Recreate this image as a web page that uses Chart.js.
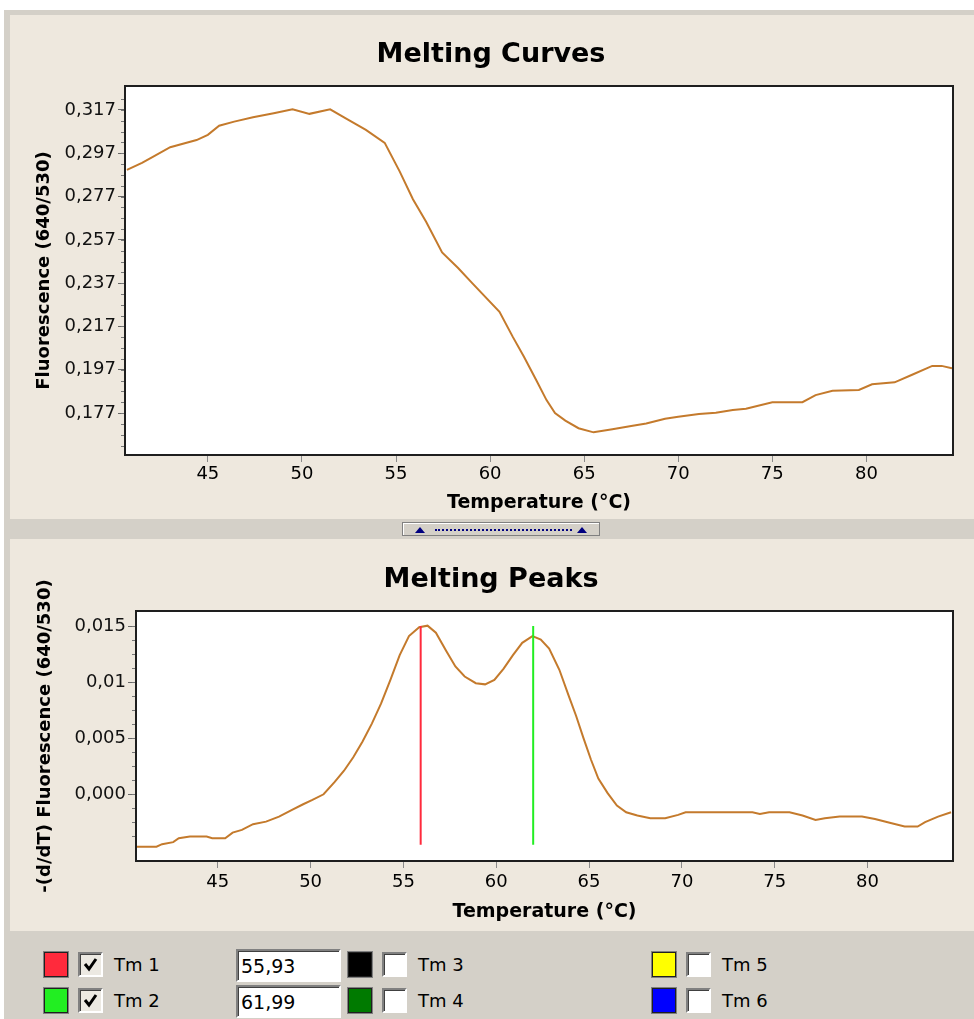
<!DOCTYPE html>
<html>
<head>
<meta charset="utf-8">
<title>Melting Curves / Melting Peaks</title>
<script src="https://cdn.jsdelivr.net/npm/chart.js@4.4.1/dist/chart.umd.min.js"></script>
<style>
  html, body { margin: 0; padding: 0; background: #fff; overflow: hidden; width: 974px; height: 1019px; font-family: "DejaVu Sans", sans-serif; }
  #frame { position: absolute; left: 4px; top: 10px; width: 970px; height: 1009px; background: #d4d0c8; }
  .pane { position: absolute; left: 10px; width: 964px; background: #eee8de; }
  #topPane { top: 15px; height: 504px; }
  #botPane { top: 539px; height: 392px; }
  canvas { position: absolute; left: 0; }
  #curves { top: 0; }
  #peaks { top: 539px; }
  #grip { position: absolute; left: 402px; top: 522px; width: 196px; height: 12px; background: #d4d0c8;
          border: 1px solid #808080; box-shadow: inset 1px 1px #fff; }
  .tri { position: absolute; top: 4px; width: 0; height: 0; border-left: 5px solid transparent; border-right: 5px solid transparent; border-bottom: 6px solid #000080; }
  #dots { position: absolute; left: 32px; top: 6px; width: 137px; border-top: 2px dotted #000080; }
  .swatch { position: absolute; width: 22px; height: 23px; border: 1px solid #202020; outline: 1px solid #808080; }
  .check { position: absolute; width: 21px; height: 21px; background: #fff; border-style: solid; border-width: 2px; border-color: #808080 #fff #fff #808080; box-shadow: inset 1px 1px #404040; }
  .check.on { background: #ece9e2; }
  .lbl { position: absolute; font-size: 18px; color: #000; line-height: 26px; }
  .box { position: absolute; left: 236px; width: 98px; height: 29px; background: #fff; border-style: solid; border-width: 2px; border-color: #808080 #fff #fff #808080; box-shadow: inset 1px 1px #404040;
         font-size: 19px; line-height: 31px; padding-left: 3px; box-sizing: content-box; }
</style>
</head>
<body>
<div id="frame"></div>
<div class="pane" id="topPane"></div>
<div class="pane" id="botPane"></div>
<canvas id="curves" width="982" height="519"></canvas>
<canvas id="peaks" width="982" height="392"></canvas>
<div id="grip"><div class="tri" style="left:12px"></div><div id="dots"></div><div class="tri" style="left:174px"></div></div>
<div id="legend"></div>

<script>
// temperature axis (°C)
const tempTicks = [45, 50, 55, 60, 65, 70, 75, 80];

// melting curve: fluorescence (640/530) vs temperature
const curveTemp = [40.7, 41.5, 42.1, 43.0, 44.4, 45.0, 45.6, 46.4, 47.4, 48.5, 49.5, 50.4, 51.5, 52.4, 53.4, 54.4,
  55.2, 55.9, 56.6, 57.45, 58.3, 59.05, 60.5, 61.2, 61.8, 62.45, 63.0, 63.45, 64.0, 64.7, 65.5, 66.5, 67.5, 68.3,
  69.3, 70.0, 71.1, 72.0, 72.9, 73.6, 75.0, 76.6, 77.3, 78.2, 79.6, 80.3, 81.5, 82.4, 83.5, 84.0, 84.55];
const curveFluor = [0.2893, 0.2926, 0.2954, 0.2998, 0.3031, 0.3055, 0.3097, 0.3116, 0.3136, 0.3155, 0.3173, 0.3152,
  0.3173, 0.3128, 0.3078, 0.3018, 0.2885, 0.2758, 0.2654, 0.2512, 0.2440, 0.2370, 0.2238, 0.2123, 0.2030, 0.1923,
  0.1830, 0.1770, 0.1735, 0.1700, 0.1681, 0.1695, 0.1710, 0.1722, 0.1744, 0.1753, 0.1766, 0.1772, 0.1784, 0.1790,
  0.1820, 0.1820, 0.1853, 0.1873, 0.1877, 0.1903, 0.1912, 0.1946, 0.1988, 0.1988, 0.1977];
const curveYTicks = [0.177, 0.197, 0.217, 0.237, 0.257, 0.277, 0.297, 0.317];
const curveYLabels = ['0,177', '0,197', '0,217', '0,237', '0,257', '0,277', '0,297', '0,317'];

// melting peaks: -(d/dT) fluorescence vs temperature
const peakTemp = [40.6, 41.7, 42.0, 42.6, 42.9, 43.5, 44.4, 44.7, 45.4, 45.8, 46.3, 46.9, 47.6, 48.3, 49.0, 49.6,
  50.1, 50.7, 51.3, 51.8, 52.3, 52.8, 53.3, 53.8, 54.3, 54.8, 55.3, 55.85, 56.3, 56.75, 57.3, 57.8, 58.3, 58.9,
  59.4, 59.9, 60.4, 60.9, 61.4, 61.95, 62.4, 62.85, 63.4, 63.9, 64.3, 64.7, 65.1, 65.5, 66.0, 66.5, 67.0, 67.6,
  68.3, 69.1, 69.8, 70.2, 72.4, 73.8, 74.2, 74.7, 75.8, 76.5, 77.2, 77.7, 78.5, 79.7, 80.4, 81.3, 82.0, 82.7,
  83.1, 83.8, 84.5];
const peakDeriv = [-0.00467, -0.00467, -0.00445, -0.00427, -0.00392, -0.00377, -0.00377, -0.00392, -0.00392,
  -0.00342, -0.00318, -0.00267, -0.00244, -0.00199, -0.00139, -0.00089, -0.0005, 0.0, 0.0011, 0.0021, 0.0033,
  0.0047, 0.0063, 0.0081, 0.0102, 0.0124, 0.0141, 0.0149, 0.01503, 0.0144, 0.0128, 0.0114, 0.0105, 0.0099,
  0.0098, 0.0102, 0.0112, 0.0124, 0.0135, 0.0141, 0.0138, 0.0130, 0.0111, 0.0088, 0.0070, 0.0050, 0.0031,
  0.0014, 0.0001, -0.0010, -0.0016, -0.0019, -0.00213, -0.00213, -0.00184, -0.0016, -0.0016, -0.0016, -0.00175,
  -0.0016, -0.0016, -0.0019, -0.00229, -0.00213, -0.00199, -0.00199, -0.0022, -0.00258, -0.00288, -0.00288,
  -0.00249, -0.00199, -0.0016];
const peakYTicks = [0, 0.005, 0.01, 0.015];
const peakYLabels = ['0,000', '0,005', '0,01', '0,015'];

// Tm markers
const tmValues = [55.93, 61.99];
const tmSpan = [-0.0045, 0.0150];
const tmNames = ['Tm 1', 'Tm 2', 'Tm 3', 'Tm 4', 'Tm 5', 'Tm 6'];
const tmChecked = [true, true, false, false, false, false];

const FONT = '"DejaVu Sans", sans-serif';
const tmColors = ['#ff2a3c', '#22ee22', '#000000', '#007a00', '#ffff00', '#0000ff'];

// white plot area, dark frame and the small unlabelled ticks
const framePlugin = {
  id: 'frame',
  beforeDraw(chart) {
    const { ctx, chartArea: a } = chart;
    ctx.save();
    ctx.fillStyle = '#fff';
    ctx.fillRect(a.left, a.top, a.right - a.left, a.bottom - a.top);
    ctx.restore();
  },
  afterDraw(chart, args, opts) {
    const { ctx, chartArea: a } = chart;
    const y = chart.scales.y;
    ctx.save();
    ctx.strokeStyle = '#777';
    ctx.lineWidth = 1;
    for (let v = opts.minorStart; v <= y.max; v += opts.minorStep) {
      const py = Math.round(y.getPixelForValue(v)) + 0.5;
      if (py < a.top + 2 || py > a.bottom - 2) continue;
      ctx.beginPath();
      ctx.moveTo(a.left - 5, py);
      ctx.lineTo(a.left, py);
      ctx.stroke();
    }
    ctx.strokeStyle = '#1e1e1e';
    ctx.lineWidth = 2;
    ctx.strokeRect(a.left - 1, a.top - 1, a.right - a.left + 2, a.bottom - a.top + 2);
    ctx.restore();
  }
};

function makeChart(id, c) {
  return new Chart(document.getElementById(id), {
    type: 'line',
    data: { datasets: c.datasets },
    options: {
      responsive: false,
      animation: false,
      layout: { padding: 0 },
      plugins: {
        legend: { display: false },
        tooltip: { enabled: false },
        title: {
          display: true,
          text: c.title,
          color: '#000',
          font: { family: FONT, size: 27, weight: 'bold' },
          padding: { top: c.titleTop, bottom: c.titleBottom }
        },
        frame: { minorStart: c.minorStart, minorStep: c.minorStep }
      },
      scales: {
        x: {
          type: 'linear',
          min: 40.65,
          max: 84.55,
          afterBuildTicks: s => { s.ticks = tempTicks.map(v => ({ value: v })); },
          afterFit: s => { s.height = c.xHeight; },
          ticks: { color: '#000', font: { family: FONT, size: 18 }, padding: c.xTickPad, autoSkip: false, maxRotation: 0,
                   callback: v => String(v) },
          grid: { drawOnChartArea: false, tickLength: 8, color: '#8a8a8a' },
          border: { display: false },
          title: { display: true, text: 'Temperature (°C)', color: '#000', font: { family: FONT, size: 19, weight: 'bold' },
                   padding: { top: 0, bottom: c.xTitleBottom } }
        },
        y: {
          min: c.yMin,
          max: c.yMax,
          afterBuildTicks: s => { s.ticks = c.yTicks.map(v => ({ value: v })); },
          afterFit: s => { s.width = c.yWidth; },
          ticks: { color: '#111', font: { family: FONT, size: 18 }, padding: 2, autoSkip: false,
                   callback: (v, i) => c.yLabels[i] },
          grid: { drawOnChartArea: false, tickLength: c.yTickLen, color: '#666' },
          border: { display: false },
          title: { display: true, text: c.yTitle, color: '#000', font: { family: FONT, size: 18, weight: 'bold' },
                   padding: { top: c.yTitleTop, bottom: 0 } }
        },
        y2: {
          position: 'right',
          display: true,
          ticks: { display: false },
          grid: { display: false },
          border: { display: false },
          afterFit: s => { s.width = 30; }
        }
      }
    },
    plugins: [framePlugin]
  });
}

const curveColor = '#c47a2c';

makeChart('curves', {
  title: 'Melting Curves',
  titleTop: 39, titleBottom: 15.6,
  xHeight: 65, xTickPad: 2, xTitleBottom: 4.6,
  yMin: 0.1581, yMax: 0.3276, yWidth: 126, yTickLen: 8,
  yTicks: curveYTicks, yLabels: curveYLabels,
  yTitle: 'Fluorescence (640/530)', yTitleTop: 34,
  minorStart: 0.162, minorStep: 0.005,
  datasets: [{
    data: curveTemp.map((t, i) => ({ x: t, y: curveFluor[i] })),
    borderColor: curveColor, borderWidth: 2, pointRadius: 0, tension: 0, fill: false
  }]
});

makeChart('peaks', {
  title: 'Melting Peaks',
  titleTop: 25, titleBottom: 15.6,
  xHeight: 71, xTickPad: 4, xTitleBottom: 7.6,
  yMin: -0.00586, yMax: 0.01625, yWidth: 137, yTickLen: 9,
  yTicks: peakYTicks, yLabels: peakYLabels,
  yTitle: '-(d/dT) Fluorescence (640/530)', yTitleTop: 35,
  minorStart: -0.00375, minorStep: 0.00125,
  datasets: [
    ...tmValues.map((tm, i) => ({
      data: tmSpan.map(v => ({ x: tm, y: v })),
      borderColor: tmColors[i], borderWidth: 2, pointRadius: 0, order: 0
    })),
    {
      data: peakTemp.map((t, i) => ({ x: t, y: peakDeriv[i] })),
      borderColor: curveColor, borderWidth: 2, pointRadius: 0, tension: 0, fill: false, order: 1
    }
  ]
});

// Tm selection strip under the charts
const legend = document.getElementById('legend');
const colX = [44, 348, 652];
const rowY = [952, 988];
let html = '';
tmNames.forEach((name, i) => {
  const x = colX[Math.floor(i / 2)];
  const y = rowY[i % 2];
  html += `<div class="swatch" style="left:${x}px;top:${y}px;background:${tmColors[i]}"></div>`;
  html += `<div class="check${tmChecked[i] ? ' on' : ''}" style="left:${x + 34}px;top:${y}px">` +
    (tmChecked[i] ? '<svg width="21" height="21"><polyline points="5,10 9,15 16,5" fill="none" stroke="#000" stroke-width="3"/></svg>' : '') +
    '</div>';
  html += `<div class="lbl" style="left:${x + 70}px;top:${y}px">${name}</div>`;
});
tmValues.forEach((tm, i) => {
  html += `<div class="box" style="top:${rowY[i] - 3}px">${tm.toFixed(2).replace('.', ',')}</div>`;
});
legend.innerHTML = html;
</script>
</body>
</html>
